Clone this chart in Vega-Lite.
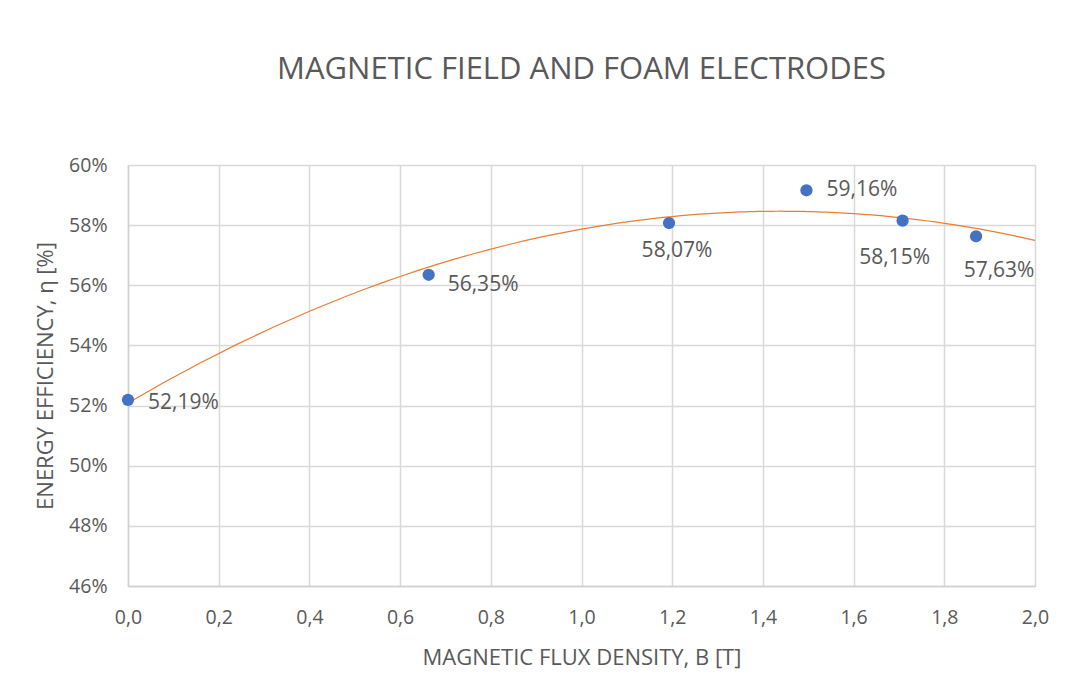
{
  "$schema": "https://vega.github.io/schema/vega-lite/v6.json",
  "width": 907,
  "height": 421,
  "autosize": {"type": "none"},
  "padding": {"left": 128, "top": 165, "right": 47, "bottom": 111},
  "background": "white",
  "title": {
    "text": "MAGNETIC FIELD AND FOAM ELECTRODES",
    "fontSize": 31,
    "font": "Open Sans",
    "fontWeight": "normal",
    "color": "#595959",
    "anchor": "middle",
    "offset": 69
  },
  "data": {
    "values": [
      {"B": 0.0, "eta": 0.5219},
      {"B": 0.663, "eta": 0.5635},
      {"B": 1.193, "eta": 0.5807},
      {"B": 1.496, "eta": 0.5916},
      {"B": 1.708, "eta": 0.5815},
      {"B": 1.87, "eta": 0.5763}
    ]
  },
  "encoding": {
    "x": {
      "field": "B",
      "type": "quantitative",
      "scale": {"domain": [0, 2], "nice": false, "zero": false},
      "axis": {
        "title": "MAGNETIC FLUX DENSITY, B [T]",
        "values": [0, 0.2, 0.4, 0.6, 0.8, 1.0, 1.2, 1.4, 1.6, 1.8, 2.0],
        "format": ".1f",
        "labelFlush": false,
        "labelPadding": 22,
        "titlePadding": 21
      }
    },
    "y": {
      "field": "eta",
      "type": "quantitative",
      "scale": {"domain": [0.46, 0.6], "nice": false, "zero": false},
      "axis": {
        "title": "ENERGY EFFICIENCY, η [%]",
        "values": [0.46, 0.48, 0.5, 0.52, 0.54, 0.56, 0.58, 0.6],
        "format": ".0%",
        "labelFlush": false,
        "labelPadding": 21,
        "titlePadding": 11
      }
    }
  },
  "layer": [
    {
      "transform": [
        {"regression": "eta", "on": "B", "method": "poly", "order": 2, "extent": [0, 2]}
      ],
      "mark": {"type": "line", "color": "#ED7D31", "strokeWidth": 1.25}
    },
    {
      "mark": {"type": "circle", "size": 150, "color": "#4472C4", "opacity": 1}
    },
    {
      "transform": [{"filter": "datum.B < 0.1"}],
      "mark": {"type": "text", "align": "left", "baseline": "middle", "dx": 20, "dy": 3},
      "encoding": {"text": {"field": "eta", "type": "quantitative", "format": ".2%"}}
    },
    {
      "transform": [{"filter": "datum.B > 0.6 && datum.B < 0.7"}],
      "mark": {"type": "text", "align": "left", "baseline": "middle", "dx": 19, "dy": 10},
      "encoding": {"text": {"field": "eta", "type": "quantitative", "format": ".2%"}}
    },
    {
      "transform": [{"filter": "datum.B > 1.4 && datum.B < 1.6"}],
      "mark": {"type": "text", "align": "left", "baseline": "middle", "dx": 20, "dy": 0},
      "encoding": {"text": {"field": "eta", "type": "quantitative", "format": ".2%"}}
    },
    {
      "transform": [{"filter": "datum.B > 1.1 && datum.B < 1.3"}],
      "mark": {"type": "text", "align": "center", "baseline": "middle", "dx": 8, "dy": 28},
      "encoding": {"text": {"field": "eta", "type": "quantitative", "format": ".2%"}}
    },
    {
      "transform": [{"filter": "datum.B > 1.65 && datum.B < 1.75"}],
      "mark": {"type": "text", "align": "center", "baseline": "middle", "dx": -8, "dy": 37},
      "encoding": {"text": {"field": "eta", "type": "quantitative", "format": ".2%"}}
    },
    {
      "transform": [{"filter": "datum.B > 1.8"}],
      "mark": {"type": "text", "align": "center", "baseline": "middle", "dx": 23, "dy": 35},
      "encoding": {"text": {"field": "eta", "type": "quantitative", "format": ".2%"}}
    }
  ],
  "config": {
    "locale": {
      "number": {"decimal": ",", "thousands": ".", "grouping": [3], "currency": ["", " €"]}
    },
    "font": "Open Sans",
    "view": {"stroke": null},
    "text": {"font": "Open Sans", "fontSize": 21, "color": "#595959"},
    "axis": {
      "labelFont": "Open Sans",
      "labelFontSize": 19.5,
      "labelColor": "#595959",
      "titleFont": "Open Sans",
      "titleFontSize": 22,
      "titleFontWeight": "normal",
      "titleColor": "#595959",
      "grid": true,
      "gridColor": "#d9d9d9",
      "gridWidth": 1.5,
      "domainColor": "#d0d0d0",
      "domainWidth": 1.5,
      "ticks": false
    }
  }
}
